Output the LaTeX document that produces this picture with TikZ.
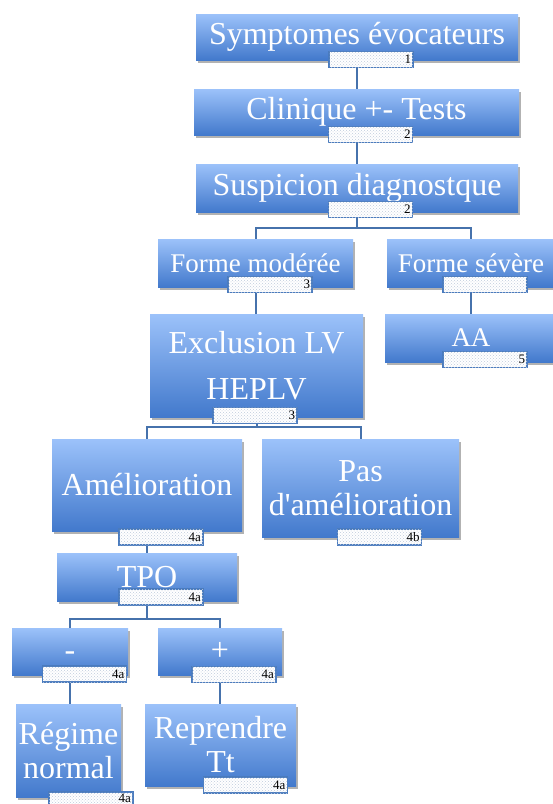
\documentclass[tikz,border=0pt]{standalone}
\usepackage{fontspec}
\setmainfont{Liberation Serif}[Ligatures=TeXOff]
\usetikzlibrary{shadows,backgrounds,patterns}
\definecolor{boxtop}{HTML}{9CC2FA}
\definecolor{boxbot}{HTML}{4279CC}
\definecolor{conncol}{HTML}{4672AC}
\definecolor{tagline}{HTML}{4A7BBE}
\definecolor{tagdot}{HTML}{BFCBDC}
\begin{document}
\begin{tikzpicture}[x=1pt,y=-1pt,
  box/.style={rectangle, top color=boxtop, bottom color=boxbot, text=white,
    inner sep=0pt, align=center, font=\fontsize{32}{34}\selectfont,
    drop shadow={shadow xshift=1.5pt, shadow yshift=-2.5pt, opacity=0.3, fill=black}},
  smallbox/.style={box, font=\fontsize{27}{30}\selectfont},
  tagbox/.style={rectangle, draw=tagline, line width=1.6pt, fill=white,
    postaction={pattern=crosshatch dots, pattern color=tagdot},
    minimum width=84pt, minimum height=16pt, text width=80pt, align=right,
    inner sep=0pt, font=\fontsize{13}{13}\selectfont, text=black},
  conn/.style={draw=conncol, line width=2pt}
]
\useasboundingbox (0,0) rectangle (553,804);

% boxes
\node[box, minimum width=322pt, minimum height=46pt] (b1) at (357,37) {Symptomes évocateurs};
\node[tagbox] (t1) at (371,59.5) {1};
\node[box, minimum width=325pt, minimum height=46pt] (b2) at (356.5,112) {Clinique +- Tests};
\node[tagbox] (t2) at (370.5,134.5) {2};
\node[box, minimum width=322pt, minimum height=48pt] (b3) at (357,188) {Suspicion diagnostque};
\node[tagbox] (t3) at (370.5,209.5) {2};

\node[smallbox, minimum width=195pt, minimum height=48pt] (b4) at (255.5,263) {Forme modérée};
\node[tagbox] (t4) at (270,284.5) {3};
\node[smallbox, minimum width=168pt, minimum height=48pt] (b5) at (471,263) {Forme sévère};
\node[tagbox] (t5) at (485,284.5) {};

\node[box, minimum width=213pt, minimum height=103pt, font=\fontsize{32}{46}\selectfont] (b6) at (256.5,365.5) {Exclusion LV\\HEPLV};
\node[tagbox] (t6) at (255,415.5) {3};
\node[smallbox, minimum width=172pt, minimum height=48pt] (b7) at (471,338) {AA};
\node[tagbox] (t7) at (485,359.5) {5};

\node[box, minimum width=190pt, minimum height=92pt] (b8) at (147,485) {Amélioration};
\node[tagbox] (t8) at (161,537) {4a};
\node[box, minimum width=197pt, minimum height=98pt] (b9) at (360.5,488) {Pas\\d'amélioration};
\node[tagbox] (t9) at (379.5,537) {4b};

\node[box, minimum width=180pt, minimum height=48pt] (b10) at (147,577) {TPO};
\node[tagbox] (t10) at (161,597) {4a};

\node[box, minimum width=116pt, minimum height=47pt] (b11) at (70,651.5) {\vphantom{+}-};
\node[tagbox] (t11) at (84.5,674) {4a};
\node[box, minimum width=124pt, minimum height=47pt] (b12) at (220,651.5) {+};
\node[tagbox] (t12) at (234,674.5) {4a};

\node[box, minimum width=105pt, minimum height=93pt] (b13) at (68.5,750.5) {Régime\\normal};
\node[tagbox] (t13) at (91,800) {\raisebox{3pt}{4a}};
\node[box, minimum width=151pt, minimum height=82pt] (b14) at (220.5,745) {Reprendre\\Tt};
\node[tagbox] (t14) at (245.5,785) {4a};

% connectors
\begin{pgfonlayer}{background}
\draw[conn] (b1.south) -- (b1.south |- b2.north);
\draw[conn] (b2.south) -- (b2.south |- b3.north);
\draw[conn] (b3.south) -- ++(0,16) coordinate (j1);
\draw[conn] (b4.north) |- (j1) -| (b5.north);
\draw[conn] (b4.south) -- (b4.south |- b6.north);
\draw[conn] (b5.south) -- (b5.south |- b7.north);
\draw[conn] (b6.south) -- ++(0,10) coordinate (j2);
\draw[conn] (b8.north) |- (j2) -| (b9.north);
\draw[conn] (b8.south) -- (b8.south |- b10.north);
\draw[conn] (b10.south) -- ++(0,18) coordinate (j3);
\draw[conn] (b11.north) |- (j3) -| (b12.north);
\draw[conn] (b11.south) -- (b11.south |- b13.north);
\draw[conn] (b12.south) -- (b12.south |- b14.north);
\end{pgfonlayer}
\end{tikzpicture}
\end{document}
